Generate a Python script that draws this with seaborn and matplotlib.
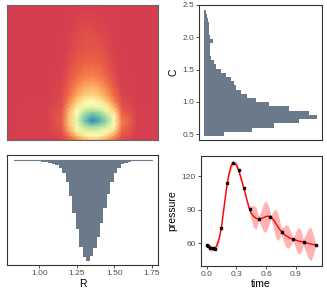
import numpy as np
import matplotlib
matplotlib.use("Agg")
import matplotlib.pyplot as plt
import seaborn as sns
from matplotlib.colors import LinearSegmentedColormap

# ---- data ----
# 2D density grid (rows = C nodes, cols = R nodes), scaled 0..1
dens_r = [0.78, 1.05, 1.15, 1.2, 1.25, 1.3, 1.35, 1.4, 1.45, 1.5, 1.55, 1.65, 1.8]
dens_c = [0.40, 0.475, 0.55, 0.625, 0.7, 0.775, 0.85, 0.925, 1.0, 1.1,
          1.25, 1.4, 1.6, 1.8, 2.1, 2.5]
dens_z = [
    [0, 0.00, 0.01, 0.06, 0.14, 0.22, 0.27, 0.25, 0.18, 0.10, 0.03, 0.00, 0],
    [0, 0.00, 0.03, 0.14, 0.30, 0.44, 0.50, 0.47, 0.37, 0.22, 0.06, 0.00, 0],
    [0, 0.01, 0.05, 0.24, 0.45, 0.60, 0.65, 0.62, 0.53, 0.36, 0.10, 0.01, 0],
    [0, 0.01, 0.07, 0.30, 0.54, 0.72, 0.79, 0.76, 0.67, 0.48, 0.14, 0.01, 0],
    [0, 0.01, 0.08, 0.32, 0.58, 0.84, 1.00, 0.92, 0.78, 0.55, 0.16, 0.01, 0],
    [0, 0.01, 0.08, 0.31, 0.56, 0.80, 0.92, 0.86, 0.73, 0.48, 0.13, 0.01, 0],
    [0, 0.01, 0.07, 0.28, 0.50, 0.70, 0.77, 0.74, 0.60, 0.37, 0.09, 0.01, 0],
    [0, 0.01, 0.05, 0.23, 0.42, 0.56, 0.60, 0.56, 0.45, 0.26, 0.06, 0.00, 0],
    [0, 0.00, 0.04, 0.18, 0.33, 0.45, 0.49, 0.44, 0.33, 0.18, 0.04, 0.00, 0],
    [0, 0.00, 0.03, 0.13, 0.24, 0.33, 0.36, 0.32, 0.23, 0.12, 0.02, 0.00, 0],
    [0, 0.00, 0.02, 0.09, 0.17, 0.23, 0.25, 0.22, 0.15, 0.07, 0.01, 0.00, 0],
    [0, 0.00, 0.01, 0.06, 0.12, 0.16, 0.17, 0.15, 0.10, 0.04, 0.00, 0.00, 0],
    [0, 0.00, 0.00, 0.04, 0.07, 0.10, 0.10, 0.09, 0.06, 0.02, 0.00, 0.00, 0],
    [0, 0.00, 0.00, 0.02, 0.05, 0.06, 0.07, 0.06, 0.04, 0.01, 0.00, 0.00, 0],
    [0, 0.00, 0.00, 0.01, 0.03, 0.04, 0.04, 0.03, 0.02, 0.00, 0.00, 0.00, 0],
    [0, 0.00, 0.00, 0.00, 0.00, 0.00, 0.00, 0.00, 0.00, 0.00, 0.00, 0.00, 0],
]

# marginal histogram of C (30 bins, relative counts)
c_start, c_width = 0.47, 0.0653
c_counts = [0.18, 0.43, 0.62, 0.84, 1.00, 0.93, 0.75, 0.58, 0.46, 0.38,
            0.33, 0.29, 0.27, 0.24, 0.20, 0.15, 0.11, 0.09, 0.07, 0.06,
            0.06, 0.06, 0.08, 0.055, 0.05, 0.045, 0.045, 0.04, 0.03, 0.024]

# marginal histogram of R (40 bins, relative counts)
r_start, r_width = 0.83, 0.023
r_counts = [0.006, 0.006, 0.007, 0.007, 0.008, 0.009, 0.010, 0.012, 0.015, 0.02,
            0.025, 0.035, 0.05, 0.08, 0.13, 0.22, 0.36, 0.52, 0.68, 0.86,
            0.96, 1.00, 0.95, 0.87, 0.76, 0.62, 0.48, 0.34, 0.22, 0.13,
            0.075, 0.042, 0.025, 0.018, 0.014, 0.012, 0.010, 0.009, 0.008, 0.007]

# pressure curve
obs_time = [0.0, 0.013, 0.035, 0.06, 0.08, 0.147, 0.21, 0.267, 0.323, 0.38,
            0.433, 0.53, 0.64, 0.757, 0.873, 0.983, 1.10]
obs_pressure = [58.5, 57.5, 56.0, 55.5, 55.0, 73.4, 114.0, 131.9, 125.3, 109.0,
                90.3, 82.0, 83.7, 70.4, 63.6, 60.9, 58.5]
fit_time = [0.000, 0.025, 0.050, 0.075, 0.100, 0.125, 0.150, 0.175, 0.200, 0.225,
            0.250, 0.275, 0.300, 0.325, 0.350, 0.375, 0.400, 0.425, 0.450, 0.475,
            0.500, 0.525, 0.550, 0.575, 0.600, 0.625, 0.650, 0.675, 0.700, 0.725,
            0.750, 0.775, 0.800, 0.825, 0.850, 0.875, 0.900, 0.925, 0.950, 0.975,
            1.000, 1.025, 1.050, 1.075, 1.100]
fit_mean = [58.5, 56.5, 55.3, 55.0, 57.5, 64.0, 74.5, 92.0, 109.0, 122.0,
            130.0, 132.0, 130.0, 125.0, 117.0, 109.5, 101.0, 92.5, 87.0, 84.0,
            82.3, 81.8, 82.0, 83.0, 84.0, 84.2, 83.5, 81.0, 77.5, 74.0,
            71.0, 68.5, 66.8, 65.5, 64.3, 63.5, 62.8, 62.2, 61.6, 61.0,
            60.4, 59.9, 59.3, 58.9, 58.5]
fit_halfwidth = [1.5, 3.0, 2.5, 1.5, 3.0, 3.5, 1.5, 3.0, 2.0, 2.5,
                 3.0, 1.5, 3.0, 1.5, 3.0, 1.5, 3.0, 1.5, 6.0, 10.0,
                 9.5, 2.0, 7.0, 12.5, 14.0, 9.0, 1.5, 8.0, 13.0, 11.5,
                 3.0, 6.0, 10.0, 10.0, 6.0, 1.5, 7.5, 12.0, 10.5, 3.0,
                 7.5, 13.0, 15.0, 10.0, 1.5]

# ---- style ----
sns.set_theme(style="white")
plt.rcParams['font.family'] = ['Liberation Sans', 'DejaVu Sans']
HIST_COLOR = '#6a7a8b'
TICK_COLOR = '#4d4d4d'
spectral9 = ['#d53e4f', '#f46d43', '#fdae61', '#fee08b', '#ffffbf',
             '#e6f598', '#abdda4', '#66c2a5', '#3288bd']
cmap = LinearSegmentedColormap.from_list('spectral9', spectral9)

fig = plt.figure(figsize=(3.27, 3.0), dpi=100)
W, H = 327, 300


def panel(x0, y0, x1, y1):
    return fig.add_axes([x0 / W, 1 - y1 / H, (x1 - x0) / W, (y1 - y0) / H])


def style_axes(ax, border='#333333'):
    for s in ax.spines.values():
        s.set_visible(True)
        s.set_color(border)
        s.set_linewidth(0.8)
    ax.tick_params(labelsize=6, colors=TICK_COLOR, length=2, width=0.6,
                   pad=1.5, labelcolor=TICK_COLOR)
    ax.tick_params(color='#333333')


# heatmap
ax_hm = panel(7, 5, 158, 140)
ax_hm.pcolormesh(dens_r, dens_c, np.array(dens_z), shading='gouraud',
                 cmap=cmap, vmin=0, vmax=1)
ax_hm.set_xlim(0.786, 1.792)
ax_hm.set_ylim(0.407, 2.5)
ax_hm.set_xticks([])
ax_hm.set_yticks([])
style_axes(ax_hm, border='#666666')

# C marginal
c_edges = [c_start + i * c_width for i in range(len(c_counts) + 1)]
c_centers = [c_start + (i + 0.5) * c_width for i in range(len(c_counts))]
ax_c = panel(199, 5, 321.5, 140)
sns.histplot(y=c_centers, weights=c_counts, bins=c_edges, element='step',
             fill=True, color=HIST_COLOR, alpha=1, linewidth=0, ax=ax_c)
ax_c.set_ylim(0.407, 2.5)
ax_c.set_xlim(-0.04, 1.04)
ax_c.set_yticks([0.5, 1.0, 1.5, 2.0, 2.5])
ax_c.set_yticklabels(['0.5', '1.0', '1.5', '2.0', '2.5'])
ax_c.set_xticks([])
ax_c.set_xlabel('')
ax_c.set_ylabel('C', fontsize=7.5, color='black', labelpad=3)
style_axes(ax_c)
ax_c.tick_params(axis='y', left=True)

# R marginal (hanging from the top)
r_edges = [r_start + i * r_width for i in range(len(r_counts) + 1)]
r_centers = [r_start + (i + 0.5) * r_width for i in range(len(r_counts))]
ax_r = panel(7.3, 155.3, 158, 265.3)
sns.histplot(x=r_centers, weights=r_counts, bins=r_edges, element='step',
             fill=True, color=HIST_COLOR, alpha=1, linewidth=0, ax=ax_r)
ax_r.plot([r_edges[0], r_edges[-1]], [0, 0], color=HIST_COLOR, lw=0.8)
ax_r.set_xlim(0.786, 1.792)
ax_r.set_ylim(1.043, -0.047)
ax_r.set_xticks([1.00, 1.25, 1.50, 1.75])
ax_r.set_xticklabels(['1.00', '1.25', '1.50', '1.75'])
ax_r.set_yticks([])
ax_r.set_ylabel('')
ax_r.set_xlabel('R', fontsize=7.5, color='black', labelpad=1)
style_axes(ax_r)
ax_r.tick_params(axis='x', bottom=True)

# pressure vs time
ax_p = panel(200.7, 156, 321.5, 266)
lo = [m - h for m, h in zip(fit_mean, fit_halfwidth)]
hi = [m + h for m, h in zip(fit_mean, fit_halfwidth)]
ax_p.fill_between(fit_time, lo, hi, color='#ffb3b3', linewidth=0)
sns.lineplot(x=fit_time, y=fit_mean, color='red', linewidth=1.0, ax=ax_p)
ax_p.errorbar(obs_time, obs_pressure, yerr=1.2, fmt='s', ms=1.6,
              color='black', elinewidth=0.6, capsize=0)
ax_p.set_xlim(-0.06, 1.16)
ax_p.set_ylim(39.7, 138)
ax_p.set_xticks([0.0, 0.3, 0.6, 0.9])
ax_p.set_xticklabels(['0.0', '0.3', '0.6', '0.9'])
ax_p.set_yticks([60, 90, 120])
ax_p.set_xlabel('time', fontsize=7.5, color='black', labelpad=1)
ax_p.set_ylabel('pressure', fontsize=7.5, color='black', labelpad=3)
style_axes(ax_p)
ax_p.tick_params(axis='both', bottom=True, left=True)

fig.savefig('out.png', dpi=100)
